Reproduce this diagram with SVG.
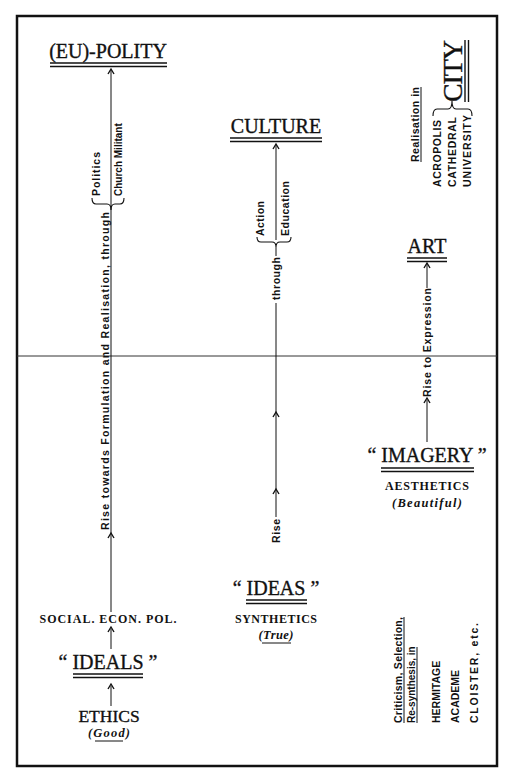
<svg xmlns="http://www.w3.org/2000/svg" xmlns:xlink="http://www.w3.org/1999/xlink" width="512" height="780" viewBox="0 0 512 780">
<style>
.t{font-family:"Liberation Serif",serif;fill:#111;stroke:#111;stroke-width:0.35}
.b{font-family:"Liberation Serif",serif;font-weight:bold;fill:#111}
.r{font-family:"Liberation Sans",sans-serif;font-weight:bold;font-size:10.5px;fill:#111}
.ln{stroke:#111;stroke-width:1;fill:none}
.ul{stroke:#111;stroke-width:1.4;fill:none}
.br{stroke:#111;stroke-width:1.1;fill:none}
.ah{stroke:#111;stroke-width:1.4;fill:none;stroke-linejoin:miter}
</style>
<defs>
<path id="ah" class="ah" d="M-3,4 L0,-1 L3,4"/>
</defs>
<rect x="17" y="16" width="480" height="750" fill="#fff" stroke="#111" stroke-width="2.5"/>
<line x1="17" y1="356" x2="497" y2="356" stroke="#333" stroke-width="1"/>

<g id="polity">
<text class="t" x="108" y="58" font-size="20" text-anchor="middle">(EU)-POLITY</text>
<line class="ul" x1="50" y1="63" x2="167" y2="63"/>
<line class="ul" x1="50" y1="66.5" x2="167" y2="66.5"/>
</g>

<g id="culture">
<text class="t" x="276" y="133" font-size="20" text-anchor="middle">CULTURE</text>
<line class="ul" x1="230" y1="138" x2="322" y2="138"/>
<line class="ul" x1="230" y1="141.5" x2="322" y2="141.5"/>
</g>

<g id="art">
<text class="t" x="427" y="253" font-size="20" text-anchor="middle">ART</text>
<line class="ul" x1="407" y1="258" x2="447" y2="258"/>
<line class="ul" x1="407" y1="261.5" x2="447" y2="261.5"/>
</g>

<g id="city">
<text class="t" font-size="28" transform="translate(462,102) rotate(-90)" textLength="62" lengthAdjust="spacing">CITY</text>
<line class="ul" x1="465" y1="40" x2="465" y2="102"/>
<line class="ul" x1="468.5" y1="40" x2="468.5" y2="102"/>
<path class="br" d="M433,116 Q433,109 437,109 L448,109 Q452,109 452,101 Q452,109 456,109 L468,109 Q472,109 472,116"/>
<text class="r" transform="translate(419,162) rotate(-90)" textLength="75" lengthAdjust="spacing">Realisation in</text>
<line class="ln" x1="421" y1="87" x2="421" y2="162"/>
<text class="r" transform="translate(441,187) rotate(-90)" textLength="67" lengthAdjust="spacing">ACROPOLIS</text>
<text class="r" transform="translate(456,187) rotate(-90)" textLength="70" lengthAdjust="spacing">CATHEDRAL</text>
<text class="r" transform="translate(471,187) rotate(-90)" textLength="72" lengthAdjust="spacing">UNIVERSITY</text>
</g>

<g id="imagery">
<text class="t" x="427" y="462" font-size="20" text-anchor="middle">“ IMAGERY ”</text>
<line class="ul" x1="381" y1="468" x2="474" y2="468"/>
<line class="ul" x1="381" y1="471.5" x2="474" y2="471.5"/>
<text class="b" x="427" y="490" font-size="12" text-anchor="middle" textLength="84" lengthAdjust="spacing">AESTHETICS</text>
<text class="b" x="427" y="507" font-size="12.5" font-style="italic" text-anchor="middle" textLength="70" lengthAdjust="spacing">(Beautiful)</text>
</g>

<g id="social">
<text class="b" x="108" y="623" font-size="12" text-anchor="middle" textLength="137" lengthAdjust="spacing">SOCIAL. ECON. POL.</text>
</g>

<g id="ideals">
<text class="t" x="108" y="669" font-size="20" text-anchor="middle">“ IDEALS ”</text>
<line class="ul" x1="73" y1="674" x2="143" y2="674"/>
<line class="ul" x1="73" y1="677.5" x2="143" y2="677.5"/>
</g>

<g id="ethics">
<text class="t" x="109" y="722" font-size="17.5" text-anchor="middle">ETHICS</text>
<text class="b" x="109" y="737" font-size="12.5" font-style="italic" text-anchor="middle" textLength="42" lengthAdjust="spacing">(Good)</text>
<line class="ln" x1="95" y1="741" x2="123" y2="741"/>
</g>

<g id="ideas">
<text class="t" x="276" y="595" font-size="20" text-anchor="middle">“ IDEAS ”</text>
<line class="ul" x1="246" y1="600" x2="307" y2="600"/>
<line class="ul" x1="246" y1="603.5" x2="307" y2="603.5"/>
<text class="b" x="276" y="623" font-size="12" text-anchor="middle" textLength="82" lengthAdjust="spacing">SYNTHETICS</text>
<text class="b" x="276" y="639" font-size="12.5" font-style="italic" text-anchor="middle" textLength="35" lengthAdjust="spacing">(True)</text>
<line class="ln" x1="262" y1="643" x2="291" y2="643"/>
</g>

<g id="hermitage">
<text class="r" transform="translate(402,723) rotate(-90)" textLength="106" lengthAdjust="spacing">Criticism, Selection,</text>
<line class="ln" x1="404" y1="617" x2="404" y2="723"/>
<text class="r" transform="translate(415,723) rotate(-90)" style="font-size:10px">Re-synthesis, in</text>
<line class="ln" x1="417" y1="647" x2="417" y2="723"/>
<text class="r" transform="translate(440,723) rotate(-90)">HERMITAGE</text>
<text class="r" transform="translate(459,723) rotate(-90)">ACADEME</text>
<text class="r" transform="translate(478,723) rotate(-90)" textLength="100" lengthAdjust="spacing">CLOISTER, etc.</text>
</g>

<g id="connectors">
<line class="ln" x1="111" y1="70" x2="111" y2="612"/>
<use xlink:href="#ah" x="111" y="70"/>
<use xlink:href="#ah" x="111" y="534"/>
<text class="r" transform="translate(109,530) rotate(-90)" textLength="318" lengthAdjust="spacing">Rise towards Formulation and Realisation, through</text>
<path class="br" d="M92,198 Q92,204 96,204 L107,204 Q111,204 111,210 Q111,204 115,204 L120,204 Q124,204 124,198"/>
<text class="r" transform="translate(100,196) rotate(-90)" textLength="44" lengthAdjust="spacing">Politics</text>
<text class="r" transform="translate(122,196) rotate(-90)" style="font-size:10px">Church Militant</text>
<line class="ln" x1="111" y1="629" x2="111" y2="649"/>
<use xlink:href="#ah" x="111" y="628"/>
<line class="ln" x1="111" y1="686" x2="111" y2="706"/>
<use xlink:href="#ah" x="111" y="685"/>
<line class="ln" x1="276" y1="145" x2="276" y2="240"/>
<use xlink:href="#ah" x="276" y="145"/>
<text class="r" transform="translate(264,236) rotate(-90)" textLength="35" lengthAdjust="spacing">Action</text>
<text class="r" transform="translate(289,236) rotate(-90)" textLength="55" lengthAdjust="spacing">Education</text>
<path class="br" d="M257,237 Q257,242 261,242 L272,242 Q276,242 276,247 Q276,242 280,242 L287,242 Q291,242 291,237"/>
<line class="ln" x1="276" y1="247" x2="276" y2="256"/>
<text class="r" transform="translate(280,300) rotate(-90)" textLength="43" lengthAdjust="spacing">through</text>
<line class="ln" x1="276" y1="303" x2="276" y2="517"/>
<use xlink:href="#ah" x="276" y="413"/>
<use xlink:href="#ah" x="276" y="490"/>
<text class="r" transform="translate(280,543) rotate(-90)" textLength="24" lengthAdjust="spacing">Rise</text>
<line class="ln" x1="427" y1="264" x2="427" y2="288"/>
<use xlink:href="#ah" x="427" y="264"/>
<text class="r" transform="translate(431,397) rotate(-90)" textLength="109" lengthAdjust="spacing">Rise to Expression</text>
<use xlink:href="#ah" x="427" y="399"/>
<line class="ln" x1="427" y1="400" x2="427" y2="442"/>
</g>
</svg>
